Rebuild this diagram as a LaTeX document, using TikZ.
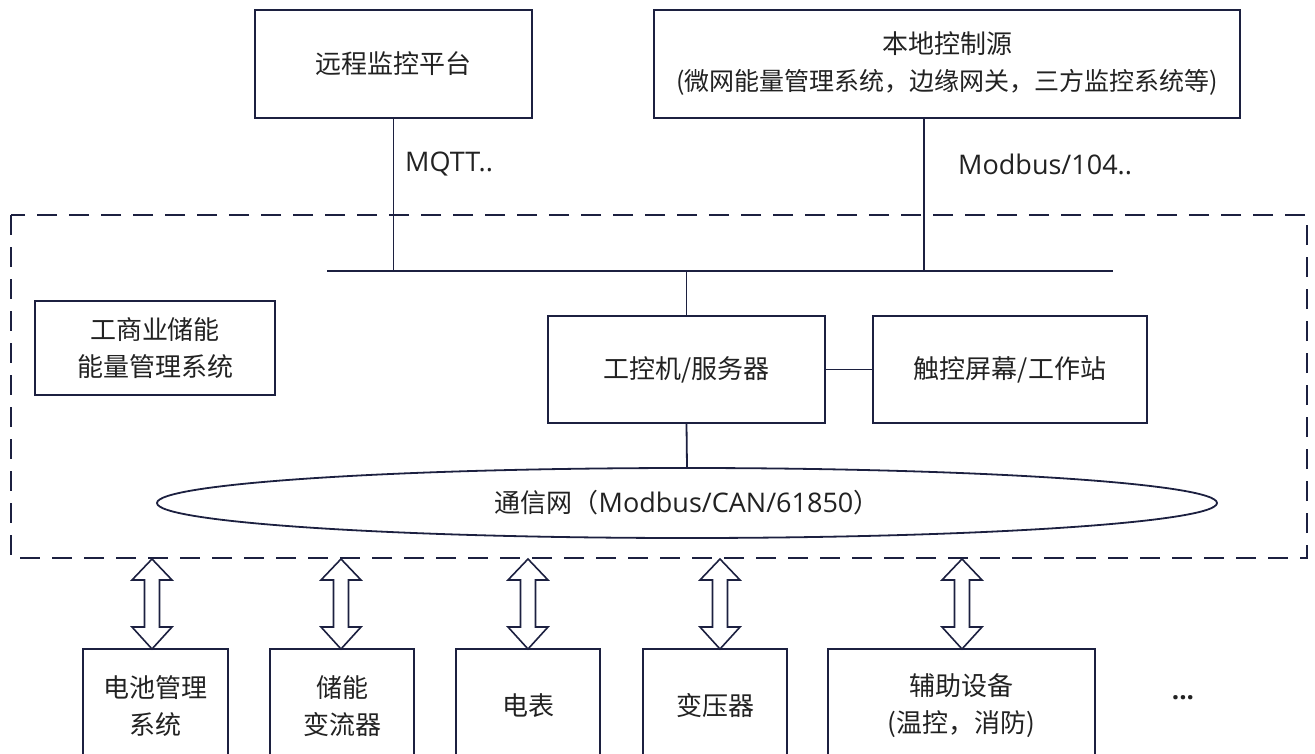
\documentclass[tikz,border=0pt]{standalone}
\usepackage{fontspec}
\setmainfont{Noto Sans CJK SC}
\newfontfamily\lat{Open Sans}
\usetikzlibrary{shapes.geometric,calc}
\definecolor{ln}{RGB}{28,32,64}
\definecolor{tx}{RGB}{34,34,34}
\begin{document}
\begin{tikzpicture}[x=1pt,y=-1pt,
  box/.style={draw=ln,line width=1.8pt,rectangle,inner sep=0pt,align=center,text=tx,font=\fontsize{26}{37}\selectfont},
  wire/.style={draw=ln,line width=1.8pt},
  dash box/.style={draw=ln,line width=2pt,dash pattern=on 20pt off 12pt},
  lbl/.style={text=tx,font=\lat\fontsize{27}{30}\selectfont,inner sep=0pt,anchor=west},
  arr/.style={draw=ln,line width=1.6pt,fill=white,line join=miter}]
\useasboundingbox (0,0) rectangle (1315,753);
\clip (0,0) rectangle (1315,753);
\fill[white] (0,0) rectangle (1315,753);

% top boxes
\node[box,minimum width=277pt,minimum height=108pt] (remote) at (393.5,64) {远程监控平台};
\node[box,minimum width=586pt,minimum height=108pt] (local) at (947,64) {本地控制源\\{\fontsize{25}{37}\selectfont(微网能量管理系统，边缘网关，三方监控系统等)}};

% dashed system area
\draw[dash box] (11,215) rectangle (1307,558);

% bus
\coordinate (busL) at (327,271);
\coordinate (busR) at (1113,271);
\draw[wire] (busL) -- (busR);
\coordinate (lt) at (924,118);
\draw[wire] (remote.south) -- (remote.south |- busL);
\draw[wire] (lt) -- (lt |- busL);

\node[lbl] (mqtt) at (405,164) {MQTT..};
\node[lbl] (modb) at (958,164) {Modbus/104..};

% inner boxes
\node[box,minimum width=240pt,minimum height=94pt] (ems) at (155,348) {工商业储能\\能量管理系统};
\node[box,minimum width=277pt,minimum height=107pt] (ipc) at (686.5,369.5) {工控机/服务器};
\node[box,minimum width=274pt,minimum height=107pt] (touch) at (1010,369.5) {触控屏幕/工作站};
\draw[wire] (ipc.north) -- (ipc.north |- busL);
\draw[wire] (ipc.east) -- (touch.west);

% network ellipse
\node[draw=ln,line width=1.8pt,ellipse,minimum width=1060pt,minimum height=70pt,inner sep=0pt,text=tx,font=\fontsize{26}{30}\selectfont] (net) at (687,503) {通信网（{\lat\fontsize{27}{30}\selectfont Modbus/CAN/61850}）};
\draw[wire] (ipc.south) -- (net.north);

% bottom boxes
\node[box,minimum width=145pt,minimum height=114pt] (bms) at (155.5,706) {电池管理\\系统};
\node[box,minimum width=144pt,minimum height=114pt] (pcs) at (342,706) {储能\\变流器};
\node[box,minimum width=144pt,minimum height=114pt] (meter) at (528,706) {电表};
\node[box,minimum width=144pt,minimum height=114pt] (trans) at (715,706) {变压器};
\node[box,minimum width=267pt,minimum height=114pt] (aux) at (961.5,706) {辅助设备\\(温控，消防)};
\node[text=tx,font=\lat\bfseries\fontsize{26}{30}\selectfont,inner sep=0pt] (more) at (1183,698) {...};

% double arrows
\foreach \cx in {152,341,528,720,962} {
  \draw[arr] (\cx,559) -- ++(20,21) -- ++(-12.5,0) -- ++(0,47) -- ++(12.5,0)
     -- (\cx,649) -- ++(-20,-22) -- ++(12.5,0) -- ++(0,-47) -- ++(-12.5,0) -- cycle;
}
\end{tikzpicture}
\end{document}
